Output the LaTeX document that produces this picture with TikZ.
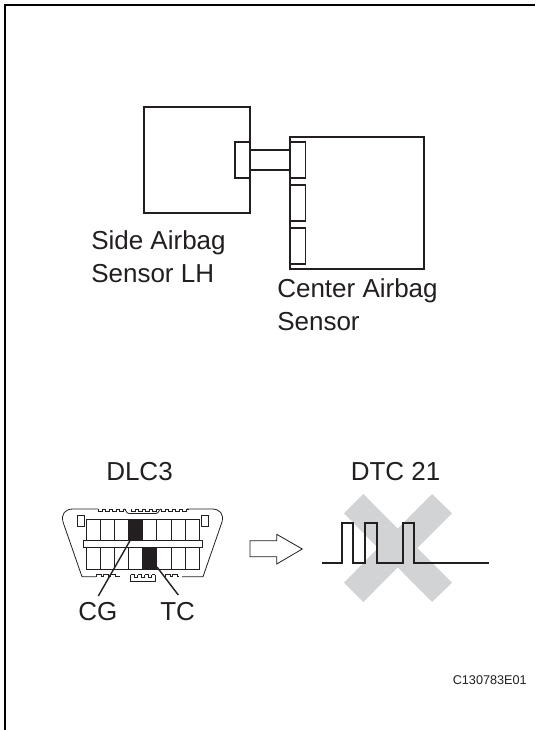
\documentclass[tikz,border=0pt]{standalone}
\usepackage{fontspec}
\setmainfont{Liberation Sans}
\definecolor{ink}{HTML}{231F20}
\definecolor{crossgray}{HTML}{D1D3D4}
\tikzset{
  x=0.75pt,y=-0.75pt,
  frameline/.style={draw=black,line width=1.5pt,line cap=butt},
  part/.style={draw=ink,line width=1pt,line join=miter},
  fine/.style={draw=ink,line width=0.6pt},
  leader/.style={draw=ink,line width=1.05pt},
  pulse/.style={draw=ink,line width=1.25pt,line join=miter},
  label/.style={font=\fontsize{19.5}{23}\selectfont,text=ink,inner sep=0pt,anchor=base west},
  code/.style={font=\fontsize{9.5}{11}\selectfont,text=ink,inner sep=0pt,anchor=base east},
}
\begin{document}
\begin{tikzpicture}
\useasboundingbox (0,0) rectangle (535,730);
\fill[white] (0,0) rectangle (535,730);
\draw[frameline] (5,730) -- (5,5) -- (535,5);
% sensors
\draw[part] (144,107) rectangle (250,213);
\draw[part] (235,142) rectangle (250,178);
\draw[part] (250,150) rectangle (290,170);
\draw[part] (290,137) rectangle (424,269);
\draw[part] (290,142) rectangle (305.5,178);
\draw[part] (290,185) rectangle (305.5,221);
\draw[part] (290,228) rectangle (305.5,264);
\node[label] (side1) at (91,250) {Side Airbag};
\node[label] (side2) at (91,283) {Sensor LH};
\node[label] (center1) at (277,297) {Center Airbag};
\node[label] (center2) at (277,330) {Sensor};
\node[label] (dlc) at (106,480) {DLC3};
\node[label] (dtc) at (350.5,480) {DTC 21};
% DLC3 connector
\draw[fine] (82,576.7) -- (203,576.7) -- (222,522) .. controls (224,514) and (220,509) .. (212,509)
  -- (73,509) .. controls (65,509) and (61,514) .. (63,522) -- cycle;
% top edge notches
\fill[white] (98,507.5) rectangle (187,510);
\foreach \a in {98,105,112,119,131,138,145,152,161,168,175,182} {
  \draw[fine] (\a,509) -- (\a,511) -- ({\a+4},511) -- ({\a+4},509) -- ({\a+7},509);
}
\draw[fine] (124,509) .. controls (126,509) and (126,513.5) .. (129,513.5) -- (156,513.5) .. controls (159,513.5) and (159,509) .. (161,509);
% bottom edge notches
\fill[white] (96,575) rectangle (182,578.2);
\foreach \a in {96,103,110} {
  \draw[fine] (\a,576.7) -- (\a,574.7) -- ({\a+5},574.7) -- ({\a+5},576.7) -- ({\a+7},576.7);
}
\draw[fine] (117,576.7) -- (120,576.7);
\foreach \a in {165,172} {
  \draw[fine] (\a,576.7) -- (\a,574.7) -- ({\a+5},574.7) -- ({\a+5},576.7) -- ({\a+7},576.7);
}
\draw[fine] (130.7,574.7) -- (130.7,581) -- (155,581) -- (155,574.7);
\foreach \a in {130.7,137.7,144.7} {
  \draw[fine] (\a,574.7) -- ({\a+4},574.7) -- ({\a+4},577) -- ({\a+7},577) -- ({\a+7},574.7);
}
\draw[fine] (151.7,574.7) -- (155,574.7);
\draw[fine] (77.3,515) rectangle (84.3,526.7);
\draw[fine] (201.3,515) rectangle (208.3,526.7);
\draw[fine] (86,519) rectangle (199.3,569.3);
\foreach \i in {1,...,7} {
  \draw[fine] ({86+\i*14.16},519) -- ({86+\i*14.16},569.3);
}
\fill[ink] (128.3,519) rectangle (142.8,540.7);
\fill[ink] (142.6,547.7) rectangle (157.2,569.3);
\draw[fine,fill=white] (83.3,540.7) rectangle (202.3,547.7);
\coordinate (cgtop) at (130,540.7);
\coordinate (cgend) at (98.3,596);
\coordinate (tctop) at (157,567);
\coordinate (tcend) at (178.3,595);
\draw[leader] (cgtop) -- (cgend);
\draw[leader] (tctop) -- (tcend);
\node[label] (cg) at (78,620.4) {CG};
\node[label] (tc) at (160,620.4) {TC};
% hollow arrow
\draw[fine] (250,540.7) -- (276.7,540.7) -- (276.7,534.3) -- (302.3,549) -- (276.7,564) -- (276.7,556.7) -- (250,556.7) -- cycle;
% crossed out pulse train
\fill[crossgray] (344,513.3) -- (363.3,494) -- (397.7,528.6) -- (432,494) -- (452,513.3) -- (417.4,548) -- (452,582.7) -- (432,602) -- (397.7,567.4) -- (363.3,602) -- (344,582.7) -- (378,548) -- cycle;
\draw[pulse] (321.7,562.7) -- (341.7,562.7) -- (341.7,523.3) -- (353.3,523.3) -- (353.3,562.7) -- (365,562.7) -- (365,523.3) -- (376.7,523.3) -- (376.7,562.7) -- (402.7,562.7) -- (402.7,523.3) -- (414.3,523.3) -- (414.3,562.7) -- (488.7,562.7);
\node[code] (ref) at (527,684) {C130783E01};
\end{tikzpicture}
\end{document}
